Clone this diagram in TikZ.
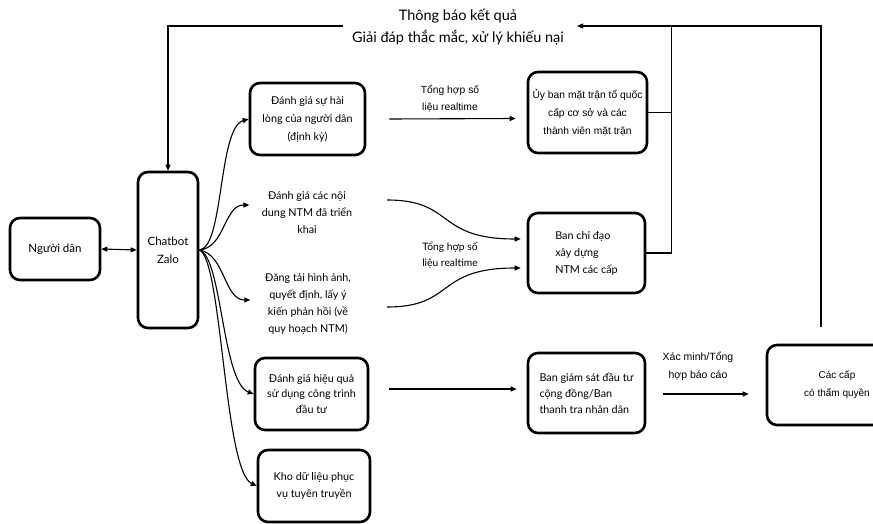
\documentclass[tikz,border=0pt]{standalone}
\usepackage{fontspec}
\setmainfont{Lato}
\newfontfamily\arialf{Liberation Sans}
\usetikzlibrary{arrows.meta}
\begin{document}
\begin{tikzpicture}[x=1pt,y=-1pt,
 box/.style={draw, line width=2.6pt, rounded corners=10pt, align=center, font=\fontsize{10.8}{18}\selectfont, inner sep=2pt},
 plain/.style={align=center, font=\fontsize{10.8}{17}\selectfont, inner sep=0pt},
 con/.style={line width=1.1pt, -{Triangle[length=6pt,width=5pt]}},
 ln/.style={line width=1.1pt}]
\useasboundingbox (0,0) rectangle (873,524);
\clip (0,0) rectangle (873,524);
% boxes
\node[box, minimum width=90pt, minimum height=62pt, font=\fontsize{11.5}{18}\selectfont] (dan) at (55,249) {Người dân};
\node[box, minimum width=60pt, minimum height=156pt, font=\fontsize{11.5}{18}\selectfont] (bot) at (168,250) {Chatbot\\Zalo};
\node[box, minimum width=115pt, minimum height=72pt] (hailong) at (307.5,119) {Đánh giá sự hài\\lòng của người dân\\(định kỳ)};
\node[plain, minimum width=115pt] (noidung) at (307,212.5) {Đánh giá các nội\\dung NTM đã triển\\khai};
\node[plain, minimum width=115pt] (dangtai) at (308,303.5) {Đăng tải hình ảnh,\\quyết định, lấy ý\\kiến phản hồi (về\\quy hoạch NTM)};
\node[box, minimum width=113pt, minimum height=72pt, font=\fontsize{10.8}{15.5}\selectfont] (hieuqua) at (311.5,394) {Đánh giá hiệu quả\\sử dụng công trình\\đầu tư};
\node[box, minimum width=112pt, minimum height=72pt, font=\fontsize{10.8}{17}\selectfont] (kho) at (314,486) {Kho dữ liệu phục\\vụ tuyên truyền};
\node[box, minimum width=119pt, minimum height=81pt, font=\arialf\fontsize{10.3}{18}\selectfont] (uyban) at (587.5,112.5) {Ủy ban mặt trận tổ quốc\\cấp cơ sở và các\\thành viên mặt trận};
\node[box, minimum width=117pt, minimum height=80pt, align=left, font=\fontsize{10.8}{17}\selectfont] (chidao) at (586.5,253) {Ban chỉ đạo\\xây dựng\\NTM các cấp};
\node[box, minimum width=117pt, minimum height=80pt, align=left, font=\fontsize{10.8}{16}\selectfont] (giamsat) at (586.5,393) {Ban giám sát đầu tư\\cộng đồng/Ban\\thanh tra nhân dân};
\node[box, minimum width=140pt, minimum height=80pt, font=\arialf\fontsize{10}{18}\selectfont] (cac) at (837,385) {Các cấp\\có thẩm quyền};
% title
\node[align=center, font=\fontsize{14.5}{22.5}\selectfont, inner sep=0pt] (title) at (458,27) {Thông báo kết quả\\Giải đáp thắc mắc, xử lý khiếu nại};
% labels
\node[plain, font=\arialf\fontsize{10.3}{17}\selectfont] (lab1) at (450,99) {Tổng hợp số\\liệu realtime};
\node[plain, font=\fontsize{10.3}{16}\selectfont] (lab2) at (450,255) {Tổng hợp số\\liệu realtime};
\node[plain, font=\arialf\fontsize{10.5}{18}\selectfont] (lab3) at (698,366) {Xác minh/Tổng\\hợp báo cáo};
% coordinates
\coordinate (tl) at (343,26);
\coordinate (tr) at (577,26);
\coordinate (cup) at (821,327);
% connectors
\draw[line width=1.1pt, {Triangle[length=6pt,width=5pt]}-{Triangle[length=6pt,width=5pt]}] (dan.east) -- (bot.west);
\draw[con] (tl) -| (bot.north);
\draw[con] (cup) |- (tr);
\draw[ln] (uyban.east) -- ++(23,0) coordinate (j1);
\draw[ln] (chidao.east) -| (j1) -- (j1 |- tr);
\draw[con] (bot.east) .. controls (224,248) and (218,128) .. (hailong.west);
\draw[con] (bot.east) .. controls (225,248) and (224,205) .. ([yshift=7.5pt]noidung.west);
\draw[con] (bot.east) .. controls (225,254) and (224,300) .. ([yshift=3.5pt]dangtai.west);
\draw[con] (bot.east) .. controls (222,256) and (222,382) .. (hieuqua.west);
\draw[con] (bot.east) .. controls (222,258) and (224,470) .. (kho.west);
\draw[con] ([xshift=23pt]hailong.east) -- ([xshift=-11pt,yshift=-6pt]uyban.west);
\draw[con] ([xshift=22.5pt,yshift=12.5pt]noidung.east) .. controls (455,200) and (435,239) .. ([xshift=-6pt,yshift=14pt]chidao.west);
\draw[con] ([xshift=21.5pt,yshift=-3.5pt]dangtai.east) .. controls (455,307) and (435,268) .. ([xshift=-6pt,yshift=-15pt]chidao.west);
\draw[con] ([xshift=20pt,yshift=5pt]hieuqua.east) -- ([xshift=-10pt,yshift=4pt]giamsat.west);
\draw[con] ([xshift=17pt,yshift=-1pt]giamsat.east) -- ([xshift=-17pt,yshift=-9pt]cac.west);
\end{tikzpicture}
\end{document}
